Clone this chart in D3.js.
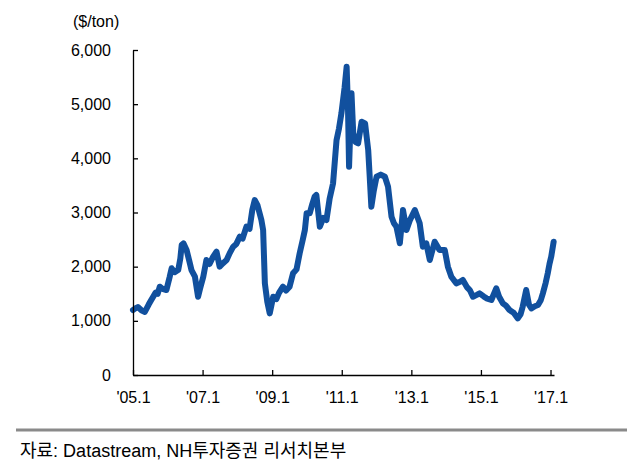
<!DOCTYPE html>
<html>
<head>
<meta charset="utf-8">
<script src="https://cdn.jsdelivr.net/npm/d3@7/dist/d3.min.js"></script>
<style>
  body { margin: 0; background: #fff; }
  svg { display: block; }
  text { font-family: "Liberation Sans", Arial, sans-serif; }
</style>
</head>
<body>
<div id="chart"></div>
<script>
// decimal years
const years = [
    2005.00, 2005.07, 2005.14, 2005.25, 2005.34, 2005.45, 2005.52, 2005.58, 2005.65, 2005.71,
    2005.77, 2005.85, 2005.96, 2006.05, 2006.11, 2006.20, 2006.30, 2006.36, 2006.40, 2006.45,
    2006.54, 2006.62, 2006.68, 2006.78, 2006.87, 2006.93, 2007.02, 2007.11, 2007.20, 2007.30,
    2007.40, 2007.49, 2007.58, 2007.69, 2007.78, 2007.88, 2007.97, 2008.07, 2008.15, 2008.26,
    2008.35, 2008.43, 2008.50, 2008.58, 2008.69, 2008.74, 2008.79, 2008.86, 2008.93, 2009.03,
    2009.12, 2009.20, 2009.31, 2009.40, 2009.50, 2009.60, 2009.70, 2009.79, 2009.88, 2009.94,
    2009.99, 2010.08, 2010.15, 2010.22, 2010.27, 2010.37, 2010.47, 2010.56, 2010.65, 2010.75,
    2010.85, 2010.92, 2010.99, 2011.08, 2011.14, 2011.18, 2011.21, 2011.28, 2011.33, 2011.40,
    2011.47, 2011.57, 2011.67, 2011.76, 2011.80, 2011.85, 2011.92, 2012.00, 2012.12, 2012.24,
    2012.33, 2012.43, 2012.50, 2012.57, 2012.67, 2012.76, 2012.86, 2012.96, 2013.10, 2013.24,
    2013.33, 2013.43, 2013.53, 2013.67, 2013.81, 2013.96, 2014.05, 2014.15, 2014.29, 2014.40,
    2014.48, 2014.60, 2014.68, 2014.77, 2014.88, 2014.96, 2015.08, 2015.16, 2015.30, 2015.44,
    2015.52, 2015.63, 2015.72, 2015.82, 2015.94, 2016.06, 2016.14, 2016.20, 2016.30, 2016.38,
    2016.45, 2016.55, 2016.64, 2016.72, 2016.78, 2016.86, 2016.92, 2016.97, 2017.02, 2017.09
];

// $/ton
const prices = [
    1200, 1230, 1255, 1190, 1165, 1300, 1380, 1446, 1520, 1500,
    1630, 1590, 1569, 1800, 1970, 1900, 1938, 2150, 2400, 2430,
    2308, 2100, 1938, 1815, 1446, 1600, 1815, 2123, 2050, 2180,
    2277, 2000, 2060, 2123, 2250, 2369, 2420, 2554, 2520, 2738,
    2700, 3050, 3230, 3130, 2861, 2677, 1692, 1350, 1138, 1446,
    1400, 1520, 1630, 1560, 1630, 1877, 1950, 2246, 2500, 2677,
    2985, 2985, 3150, 3292, 3323, 2738, 2900, 2861, 3250, 3538,
    4338, 4550, 4831, 5300, 5692, 4900, 3846, 5200, 4462, 4300,
    4277, 4677, 4646, 4154, 3700, 3107, 3400, 3660, 3700, 3660,
    3477, 2923, 2800, 2738, 2431, 3046, 2677, 2860, 3046, 2800,
    2369, 2431, 2123, 2461, 2308, 2308, 2000, 1815, 1692, 1720,
    1754, 1620, 1569, 1446, 1480, 1507, 1450, 1415, 1385, 1600,
    1450, 1323, 1280, 1200, 1150, 1046, 1120, 1261, 1569, 1300,
    1231, 1270, 1292, 1380, 1507, 1700, 1877, 2050, 2185, 2461
];

const xTicks = [2005, 2007, 2009, 2011, 2013, 2015, 2017];
const xTickLabels = ["'05.1", "'07.1", "'09.1", "'11.1", "'13.1", "'15.1", "'17.1"];
const yTicks = [0, 1000, 2000, 3000, 4000, 5000, 6000];

const unitLabel = "($/ton)";
const sourceLabel = "자료: Datastream, NH투자증권 리서치본부";

const data = years.map((y, i) => ({ year: y, price: prices[i] }));

const W = 631, H = 468;

const svg = d3.select("#chart")
    .append("svg")
    .attr("width", W)
    .attr("height", H);

const xScale = d3.scaleLinear()
    .domain([2005, 2017.1])
    .range([133, 554]);

const yScale = d3.scaleLinear()
    .domain([0, 6000])
    .range([375, 50]);

// price line
const line = d3.line()
    .x(d => xScale(d.year))
    .y(d => yScale(d.price));

svg.append("path")
    .datum(data)
    .attr("fill", "none")
    .attr("stroke", "#11509e")
    .attr("stroke-width", 6)
    .attr("stroke-linejoin", "round")
    .attr("stroke-linecap", "round")
    .attr("d", line);

// axes (ticks point inward)
const xAxis = d3.axisBottom(xScale)
    .tickValues(xTicks)
    .tickFormat((d, i) => xTickLabels[i])
    .tickSizeInner(-5)
    .tickSizeOuter(0)
    .tickPadding(17);

const gx = svg.append("g")
    .attr("transform", `translate(0,${yScale(0)})`)
    .call(xAxis);

const yAxis = d3.axisLeft(yScale)
    .tickValues(yTicks)
    .tickFormat(d3.format(","))
    .tickSizeInner(-5)
    .tickSizeOuter(0)
    .tickPadding(22);

const gy = svg.append("g")
    .attr("transform", `translate(${xScale(2005)},0)`)
    .call(yAxis);

[gx, gy].forEach(g => {
    g.selectAll("path, line").attr("stroke", "#000").attr("stroke-width", 1.3);
    g.selectAll("text")
        .attr("fill", "#000")
        .style("font-size", "16px")
        .style("font-family", "'Liberation Sans', Arial, sans-serif");
});

// unit label
svg.append("text")
    .attr("x", 73)
    .attr("y", 27)
    .style("font-size", "16px")
    .attr("fill", "#000")
    .text(unitLabel);

// source separator + note
svg.append("line")
    .attr("x1", 16)
    .attr("x2", 627)
    .attr("y1", 430)
    .attr("y2", 430)
    .attr("stroke", "#8a8a8a")
    .attr("stroke-width", 3);

svg.append("text")
    .attr("x", 20)
    .attr("y", 457)
    .style("font-size", "18px")
    .style("font-family", "'Liberation Sans Narrow', 'Liberation Sans', 'Noto Sans CJK KR', sans-serif")
    .attr("fill", "#000")
    .text(sourceLabel);
</script>
</body>
</html>
